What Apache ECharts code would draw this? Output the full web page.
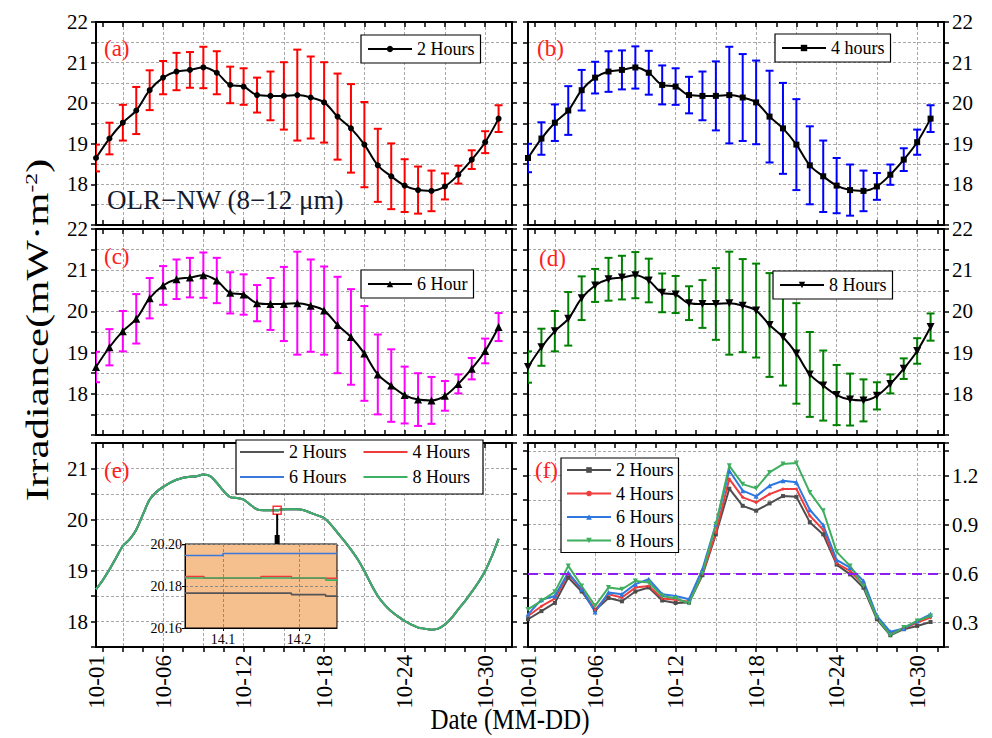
<!DOCTYPE html>
<html>
<head>
<meta charset="utf-8">
<script src="https://cdn.jsdelivr.net/npm/echarts@6/dist/echarts.min.js"></script>
<style>html,body{margin:0;padding:0;background:#fff}#c{width:992px;height:738px}</style>
</head>
<body>
<div id="c"></div>
<script>
// ---------------- data ----------------
const days = [1,2,3,4,5,6,7,8,9,10,11,12,13,14,15,16,17,18,19,20,21,22,23,24,25,26,27,28,29,30,31];
const dateLabelDays = [1,6,12,18,24,30];
const dateLabels = ['10-01','10-06','10-12','10-18','10-24','10-30'];
const tickDays = [1.5,3,4.5,6,7.5,9,10.5,12,13.5,15,16.5,18,19.5,21,22.5,24,25.5,27,28.5,30,31.5];
const gridDays = [3,6,9,12,15,18,21,24,27,30];

// daily mean irradiance (panels a-d)
const meanDaily = [18.65,19.13,19.52,19.82,20.32,20.63,20.78,20.82,20.88,20.75,20.45,20.41,20.20,20.18,20.18,20.20,20.14,20.02,19.67,19.38,18.98,18.47,18.20,17.97,17.86,17.84,17.95,18.24,18.61,19.04,19.62];
// half-length of error bars
const err2h = [0.33,0.39,0.44,0.58,0.49,0.41,0.46,0.44,0.51,0.53,0.45,0.45,0.43,0.60,0.83,1.12,1.01,0.99,1.06,1.09,1.05,0.90,0.81,0.65,0.58,0.50,0.32,0.22,0.23,0.27,0.33];
const err4h = [0.35,0.40,0.45,0.60,0.50,0.39,0.50,0.48,0.52,0.54,0.48,0.45,0.45,0.60,0.85,1.19,1.07,1.03,1.13,1.12,1.12,0.96,0.88,0.68,0.63,0.50,0.33,0.25,0.28,0.31,0.33];
const err6h = [0.37,0.44,0.49,0.60,0.49,0.47,0.48,0.48,0.55,0.55,0.50,0.49,0.44,0.63,0.90,1.25,1.12,1.07,1.17,1.16,1.15,0.97,0.88,0.69,0.64,0.57,0.36,0.23,0.26,0.30,0.34];
const err8h = [0.38,0.45,0.49,0.65,0.53,0.40,0.52,0.53,0.56,0.53,0.47,0.45,0.41,0.58,0.87,1.25,1.13,1.14,1.26,1.18,1.22,1.03,0.85,0.73,0.63,0.51,0.33,0.23,0.25,0.31,0.33];

// panel e: continuous curve (half-day reading)
const curveDays = [1,1.5,2,2.5,3,3.5,4,4.5,5,5.5,6,6.5,7,7.5,8,8.5,9,9.5,10,10.5,11,11.5,12,12.5,13,13.5,14,14.5,15,15.5,16,16.5,17,17.5,18,18.5,19,19.5,20,20.5,21,21.5,22,22.5,23,23.5,24,24.5,25,25.5,26,26.5,27,27.5,28,28.5,29,29.5,30,30.5,31];
const curveE = [18.63,18.81,19.02,19.25,19.48,19.61,19.80,20.10,20.39,20.54,20.64,20.72,20.78,20.82,20.84,20.85,20.88,20.85,20.72,20.56,20.44,20.42,20.39,20.29,20.20,20.18,20.18,20.18,20.20,20.20,20.20,20.18,20.13,20.08,20.03,19.90,19.74,19.58,19.41,19.22,18.99,18.73,18.50,18.33,18.20,18.10,18.01,17.94,17.88,17.86,17.84,17.86,17.94,18.07,18.24,18.40,18.58,18.77,18.99,19.28,19.62];

// inset of panel e
const inset2hX = [14.05,14.19,14.235,14.25];
const inset2hY = [20.1766,20.1759,20.1752,20.1752];
const inset4hX = [14.05,14.075,14.15,14.19,14.25];
const inset4hY = [20.1845,20.1837,20.1845,20.1837,20.1837];
const inset6hX = [14.05,14.10,14.25];
const inset6hY = [20.1945,20.1955,20.1955];
const inset8hX = [14.05,14.235,14.25];
const inset8hY = [20.1838,20.1828,20.1828];
const zoomPoint = [14.5,20.18];

// panel f
const ratio2h = [0.32,0.37,0.42,0.575,0.49,0.375,0.45,0.43,0.49,0.515,0.435,0.42,0.422,0.59,0.84,1.12,1.015,0.985,1.03,1.075,1.07,0.915,0.84,0.655,0.595,0.513,0.32,0.222,0.259,0.279,0.303];
const ratio4h = [0.34,0.40,0.447,0.596,0.504,0.378,0.473,0.453,0.514,0.524,0.447,0.439,0.427,0.596,0.851,1.18,1.067,1.036,1.087,1.118,1.118,0.954,0.868,0.663,0.616,0.535,0.33,0.232,0.263,0.30,0.33];
const ratio6h = [0.35,0.44,0.463,0.606,0.504,0.365,0.484,0.473,0.535,0.565,0.473,0.463,0.443,0.627,0.902,1.23,1.108,1.073,1.138,1.169,1.159,0.991,0.897,0.684,0.637,0.555,0.34,0.243,0.263,0.31,0.35];
const ratio8h = [0.38,0.433,0.488,0.647,0.524,0.402,0.514,0.504,0.555,0.545,0.463,0.447,0.418,0.602,0.902,1.26,1.148,1.122,1.22,1.271,1.277,1.097,0.985,0.733,0.647,0.524,0.33,0.222,0.269,0.31,0.34];
const threshold = 0.6;

// ---------------- chart ----------------
const SERIF = '"Liberation Serif","Times New Roman",serif';
const chart = echarts.init(document.getElementById('c'), null, {renderer:'svg', width:992, height:738});

const zip = (xs, ys) => xs.map((x,i)=>[x, ys[i]]);
const labelMap = {}; dateLabelDays.forEach((d,i)=>labelMap[d]=dateLabels[i]);

const panels = [
  {left:96,  top:22,  height:203, ymin:17,   ymax:22,  yint:0.5,  leftLab:true,  rightLab:false, bottom:false},
  {left:528, top:22,  height:203, ymin:17,   ymax:22,  yint:0.5,  leftLab:false, rightLab:true,  bottom:false},
  {left:96,  top:229, height:206, ymin:17,   ymax:22,  yint:0.5,  leftLab:true,  rightLab:false, bottom:false},
  {left:528, top:229, height:206, ymin:17,   ymax:22,  yint:0.5,  leftLab:false, rightLab:true,  bottom:false},
  {left:96,  top:443, height:204, ymin:17.5, ymax:21.5,yint:0.5,  leftLab:true,  rightLab:false, bottom:true},
  {left:528, top:443, height:204, ymin:0.15, ymax:1.4, yint:0.15, leftLab:false, rightLab:true,  bottom:true, ratio:true}
];

const AXLINE = {show:true, onZero:false, lineStyle:{color:'#000', width:2}};
const TICKSTYLE = {color:'#000', width:1.5};
const GRIDLINE = {show:true, lineStyle:{color:'#a8a8a8', width:1, type:[3,2]}};
const isInt = v => Math.abs(v - Math.round(v)) < 1e-6;
const irrFmt = v => (isInt(v) && v >= 18 && v <= 22) ? String(Math.round(v)) : '';
const ratioFmt = v => { const r = Math.round(v*100); return (r%30===0 && r>0 && r<140) ? (r/100).toFixed(1) : ''; };

const grid = [], xAxis = [], yAxis = [];
panels.forEach((p, g) => {
  grid.push({left:p.left, top:p.top, width:416, height:p.height, show:false});
  xAxis.push({type:'value', gridIndex:g, min:1, max:32, position:'bottom',
    axisLine:AXLINE,
    axisTick:{show:true, inside:!p.bottom, length:5, customValues:tickDays, lineStyle:TICKSTYLE},
    axisLabel:{show:p.bottom, customValues:dateLabelDays, formatter:v=>labelMap[v]||'', rotate:90,
      fontFamily:SERIF, fontSize:23, color:'#000', margin:8},
    splitLine:{show:false}});
  xAxis.push({type:'value', gridIndex:g, min:1, max:32, position:'top',
    axisLine:AXLINE,
    axisTick:{show:true, inside:true, length:5, customValues:tickDays, lineStyle:TICKSTYLE},
    axisLabel:{show:false}, splitLine:{show:false}});
  xAxis.push({type:'value', gridIndex:g, min:1, max:32, position:'bottom',
    axisLine:{show:false}, axisTick:{show:false, customValues:gridDays},
    axisLabel:{show:false}, splitLine:GRIDLINE});
  const fmt = p.ratio ? ratioFmt : irrFmt;
  yAxis.push({type:'value', gridIndex:g, position:'left', min:p.ymin, max:p.ymax, interval:p.yint,
    axisLine:AXLINE, axisTick:{show:true, length:5, lineStyle:TICKSTYLE},
    axisLabel:{show:p.leftLab, formatter:fmt, fontFamily:SERIF, fontSize:21, color:'#000', margin:8},
    splitLine: p.ratio ? {show:false} : GRIDLINE});
  yAxis.push({type:'value', gridIndex:g, position:'right', min:p.ymin, max:p.ymax, interval:p.yint,
    axisLine:AXLINE, axisTick:{show:true, length:5, lineStyle:TICKSTYLE},
    axisLabel:{show:p.rightLab, formatter:fmt, fontFamily:SERIF, fontSize:21, color:'#000', margin:8},
    splitLine: p.ratio ? GRIDLINE : {show:false}});
});
// inset grid (index 6)
grid.push({left:185, top:544, width:152, height:84, show:true, backgroundColor:'#F6BF8E', borderColor:'#000', borderWidth:1, z:3});
xAxis.push({type:'value', gridIndex:6, min:14.05, max:14.25, z:4,
  axisLine:{show:true, onZero:false, lineStyle:{color:'#000', width:1}},
  axisTick:{show:true, customValues:[14.1,14.2], length:3, lineStyle:{color:'#000'}},
  axisLabel:{customValues:[14.1,14.2], formatter:v=>v.toFixed(1), fontFamily:SERIF, fontSize:14, color:'#000', margin:4},
  splitLine:{show:true, lineStyle:{color:'#8a8a8a', width:1, type:[3,2]}}});
yAxis.push({type:'value', gridIndex:6, min:20.16, max:20.20, interval:0.02, z:4,
  axisLine:{show:true, onZero:false, lineStyle:{color:'#000', width:1}},
  axisTick:{show:true, length:3, lineStyle:{color:'#000'}},
  axisLabel:{formatter:v=>v.toFixed(2), fontFamily:SERIF, fontSize:14, color:'#000', margin:3},
  splitLine:{show:true, lineStyle:{color:'#8a8a8a', width:1, type:[3,2]}}});

const X = g => 3*g, Y = g => 2*g;

function errorSeries(g, err, color) {
  return {type:'custom', xAxisIndex:X(g), yAxisIndex:Y(g), clip:true, z:2, silent:true,
    data: days.map((d,i)=>[d, meanDaily[i]-err[i], meanDaily[i]+err[i]]),
    renderItem: (params, api) => {
      const x = api.value(0);
      const lo = api.coord([x, api.value(1)]);
      const hi = api.coord([x, api.value(2)]);
      const w = 4, st = {stroke:color, lineWidth:2};
      return {type:'group', children:[
        {type:'line', shape:{x1:hi[0], y1:hi[1], x2:lo[0], y2:lo[1]}, style:st},
        {type:'line', shape:{x1:hi[0]-w, y1:hi[1], x2:hi[0]+w, y2:hi[1]}, style:st},
        {type:'line', shape:{x1:lo[0]-w, y1:lo[1], x2:lo[0]+w, y2:lo[1]}, style:st}
      ]};
    }};
}
function meanSeries(g, name, symbol, size, rot) {
  return {type:'line', name, xAxisIndex:X(g), yAxisIndex:Y(g), z:3,
    data: zip(days, meanDaily), smooth:0.35, symbol, symbolSize:size, symbolRotate:rot||0,
    lineStyle:{color:'#000', width:2}, itemStyle:{color:'#000'}};
}
const eColors = {e2:'#555555', e4:'#ee3b3b', e6:'#3a78dc', e8:'#3cb063'};
function curveSeries(name) {
  return {type:'line', name, xAxisIndex:X(4), yAxisIndex:Y(4), z:3, data: zip(curveDays, curveE),
    smooth:0.3, symbol:'none', lineStyle:{color:eColors[name], width:2}, itemStyle:{color:eColors[name]}};
}
function insetSeries(name, xs, ys) {
  return {type:'line', name:name+'_in', xAxisIndex:18, yAxisIndex:12, z:5, data: zip(xs, ys), step:'end',
    symbol:'none', lineStyle:{color:eColors[name], width:1.6}};
}
const fColors = {f2:'#4d4d4d', f4:'#f03c3c', f6:'#2f78e0', f8:'#3fae5f'};
function ratioSeries(name, vals, symbol, size, rot) {
  return {type:'line', name, xAxisIndex:X(5), yAxisIndex:Y(5)+1, z:3, data: zip(days, vals),
    symbol, symbolSize:size, symbolRotate:rot||0,
    lineStyle:{color:fColors[name], width:2}, itemStyle:{color:fColors[name]}};
}

const series = [
  errorSeries(0, err2h, '#ff0000'), meanSeries(0, 'a2', 'circle', 6),
  errorSeries(1, err4h, '#0000ff'), meanSeries(1, 'b4', 'rect', 6),
  errorSeries(2, err6h, '#ff00ff'), meanSeries(2, 'c6', 'triangle', 8),
  errorSeries(3, err8h, '#008000'), meanSeries(3, 'd8', 'triangle', 8, 180),
  curveSeries('e2'), curveSeries('e4'), curveSeries('e6'), curveSeries('e8'),
  {type:'scatter', name:'zoomBox', xAxisIndex:X(4), yAxisIndex:Y(4), z:6, silent:true, data:[zoomPoint],
    symbol:'rect', symbolSize:8, itemStyle:{color:'rgba(0,0,0,0)', borderColor:'#ff0000', borderWidth:1.5}},
  insetSeries('e2', inset2hX, inset2hY), insetSeries('e4', inset4hX, inset4hY),
  insetSeries('e6', inset6hX, inset6hY), insetSeries('e8', inset8hX, inset8hY),
  ratioSeries('f2', ratio2h, 'rect', 4), ratioSeries('f4', ratio4h, 'circle', 3),
  ratioSeries('f6', ratio6h, 'triangle', 5), ratioSeries('f8', ratio8h, 'triangle', 5, 180)
];
series[series.length-1].markLine = {silent:true, symbol:'none', label:{show:false},
  lineStyle:{color:'#8f1cf5', width:2, type:[10,6]}, data:[{yAxis:threshold}]};

const nameMap = {a2:'2 Hours', b4:'4 hours', c6:'6 Hour', d8:'8 Hours',
  e2:'2 Hours', e4:'4 Hours', e6:'6 Hours', e8:'8 Hours',
  f2:'2 Hours', f4:'4 Hours', f6:'6 Hours', f8:'8 Hours'};
const LTXT = {fontFamily:SERIF, fontSize:18, color:'#000'};
function boxLegend(data, left, top, extra) {
  return Object.assign({data, left, top, formatter:n=>nameMap[n], textStyle:LTXT, selectedMode:false,
    itemWidth:44, itemHeight:8, itemGap:6, padding:[5,6], backgroundColor:'#fff',
    borderColor:'#000', borderWidth:1.2}, extra||{});
}
const legend = [
  boxLegend(['a2'], 361, 35),
  boxLegend(['b4'], 775, 34),
  boxLegend(['c6'], 361, 270),
  boxLegend(['d8'], 773, 271),
  boxLegend(['e2','e4'], 239, 443, {borderWidth:0, backgroundColor:'transparent', itemGap:16, padding:0, itemStyle:{opacity:0}}),
  boxLegend(['e6','e8'], 239, 468, {borderWidth:0, backgroundColor:'transparent', itemGap:16, padding:0, itemStyle:{opacity:0}}),
  boxLegend(['f2','f4','f6','f8'], 561, 458, {orient:'vertical', itemGap:5.5, padding:[3,5], itemHeight:7})
];

const panelTag = (t, x, y) => ({type:'text', x, y, z:10, style:{text:t, font:'23px '+SERIF, fill:'#ff2020', align:'left', verticalAlign:'middle'}});
const graphic = [
  {type:'rect', shape:{x:236, y:440, width:247, height:54}, z:3, style:{fill:'#fff', stroke:'#000', lineWidth:1.2}},
  panelTag('(a)', 104, 48), panelTag('(b)', 537, 48), panelTag('(c)', 104, 256),
  panelTag('(d)', 539, 258), panelTag('(e)', 104, 470), panelTag('(f)', 535, 470),
  {type:'text', x:107, y:200, z:10, style:{text:'OLR\u2212NW (8\u221212 \u03bcm)', font:'27px '+SERIF, fill:'#141a30', align:'left', verticalAlign:'middle'}},
  {type:'text', x:510, y:719, z:10, scaleY:1.15, style:{text:'Date (MM-DD)', font:'25px '+SERIF, fill:'#000', align:'center', verticalAlign:'middle'}},
  {type:'text', x:38, y:330, rotation:Math.PI/2, scaleX:1.38, z:10, style:{
    text:'{m|Irradiance(mW\u00b7m}{s|-2}{m|)}', align:'center', verticalAlign:'middle',
    rich:{m:{fontFamily:SERIF, fontSize:31, fill:'#000', color:'#000'}, s:{fontFamily:SERIF, fontSize:17, fill:'#000', color:'#000', padding:[0,0,14,0]}}}}
];

chart.setOption({animation:false, backgroundColor:'#fff', grid, xAxis, yAxis, series, legend, graphic});

// connector from zoom box to inset
const pBox = chart.convertToPixel({xAxisIndex:X(4), yAxisIndex:Y(4)}, zoomPoint);
const pTop = chart.convertToPixel({xAxisIndex:18, yAxisIndex:12}, [14.05, 20.20]);
graphic.push({type:'line', z:10, shape:{x1:pBox[0], y1:pBox[1]+4, x2:pBox[0], y2:pTop[1]-6}, style:{stroke:'#000', lineWidth:2}});
graphic.push({type:'rect', z:10, shape:{x:pBox[0]-2.5, y:pTop[1]-9, width:5, height:9}, style:{fill:'#000'}});
chart.setOption({graphic});
</script>
</body>
</html>
